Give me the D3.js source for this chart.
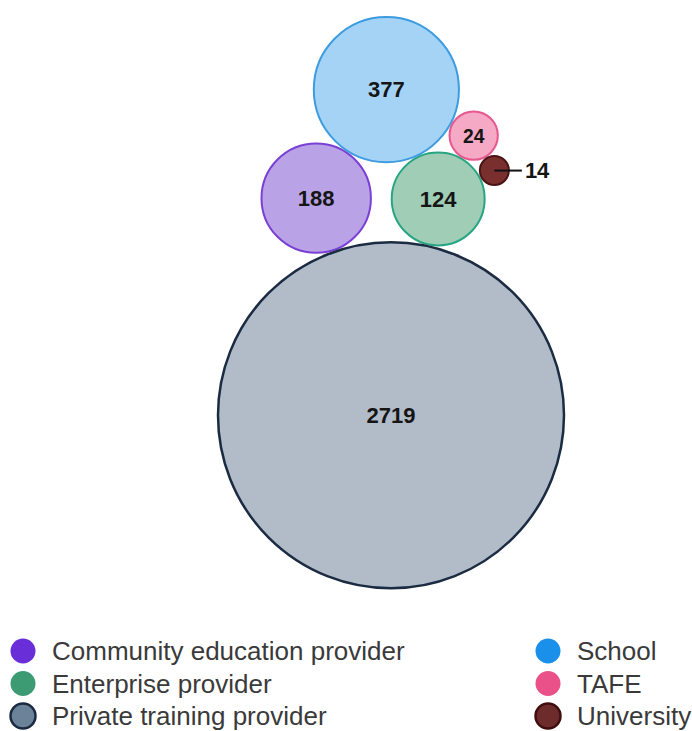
<!DOCTYPE html>
<html>
<head>
<meta charset="utf-8">
<script src="https://cdn.jsdelivr.net/npm/d3@7"></script>
<style>
	body { margin: 0; background: #fff; }
	svg { font-family: "Liberation Sans", Arial, sans-serif; }
	.bubble-label { font-weight: bold; fill: #151515; }
	.legend-label { font-size: 26px; fill: #3a3a3a; }
</style>
</head>
<body>
<svg width="692" height="731"></svg>
<script>
const categories = ['Community education provider', 'Enterprise provider', 'Private training provider', 'School', 'TAFE', 'University'];
const values = [188, 124, 2719, 377, 24, 14];

// styles per category
const fillColors = ['#b9a3e6', '#9fcdb5', '#b1bcc8', '#a5d3f5', '#f5a9c4', '#7a2f2f'];
const strokeColors = ['#7a40d6', '#27a583', '#1b2b42', '#3d9ce0', '#e5598f', '#4a1414'];
const legendFills = ['#6a2ed8', '#3c9b73', '#6c8299', '#1b90ea', '#ea5189', '#6e2b2b'];
const legendStrokes = ['none', 'none', '#1a2a40', 'none', 'none', '#3f0f0f'];

const svg = d3.select('svg');
const width = +svg.attr('width');
const height = +svg.attr('height');

const render = () => {
	const gap = 2;
	const top = 17;
	const centerX = 391;

	const data = categories.map((name, i) => ({name, value: values[i], i}));
	const minV = d3.min(values);
	const maxV = d3.max(values);

	// bubble size: area grows with (value - min), between a min and max radius
	const rScale = d3.scaleSqrt()
		.domain([0, maxV - minV])
		.range([14.5, 173]);
	data.forEach(d => d.r = rScale(d.value - minV));

	const byName = n => data.find(d => d.name === n);

	// packed layout: each bubble touches one or two bubbles already placed
	const around = (c, p, deg) => {
		const dist = p.r + c.r + gap;
		const a = deg * Math.PI / 180;
		c.x = p.x + dist * Math.sin(a);
		c.y = p.y - dist * Math.cos(a);
	};
	const between = (c, p1, p2) => {
		const r1 = p1.r + c.r + gap, r2 = p2.r + c.r + gap;
		const dx = p2.x - p1.x, dy = p2.y - p1.y, d = Math.hypot(dx, dy);
		const a = (d * d + r1 * r1 - r2 * r2) / (2 * d);
		const h = Math.sqrt(Math.max(0, r1 * r1 - a * a));
		c.x = p1.x + a * dx / d + h * dy / d;
		c.y = p1.y + a * dy / d - h * dx / d;
	};

	const anchor = data[d3.maxIndex(values)];
	anchor.x = 0; anchor.y = 0;
	around(byName('Community education provider'), anchor, -19);
	around(byName('Enterprise provider'), anchor, 12.3);
	between(byName('School'), byName('Community education provider'), byName('Enterprise provider'));
	between(byName('TAFE'), byName('School'), byName('Enterprise provider'));
	between(byName('University'), byName('TAFE'), byName('Enterprise provider'));

	const minX = d3.min(data, d => d.x - d.r);
	const maxX = d3.max(data, d => d.x + d.r);
	const minY = d3.min(data, d => d.y - d.r);

	const g = svg.append('g')
		.attr('transform', `translate(${centerX - (minX + maxX) / 2}, ${top - minY})`);

	g.selectAll('circle').data(data)
		.enter().append('circle')
			.attr('cx', d => d.x)
			.attr('cy', d => d.y)
			.attr('r', d => d.r)
			.attr('fill', d => fillColors[d.i])
			.attr('stroke', d => strokeColors[d.i])
			.attr('stroke-width', d => d.r > 100 ? 2.5 : 2);

	const fontSize = 22;
	const labelWidth = d => String(d.value).length * 0.556 * fontSize;
	const fits = d => labelWidth(d) + 10 < 2 * d.r;

	g.selectAll('text.inside').data(data.filter(fits))
		.enter().append('text')
			.attr('class', 'bubble-label inside')
			.attr('x', d => d.x)
			.attr('y', d => d.y)
			.attr('dy', '0.36em')
			.attr('text-anchor', 'middle')
			.style('font-size', d => Math.min(fontSize, d.r * 0.8) + 'px')
			.text(d => d.value);

	const outside = data.filter(d => !fits(d));
	g.selectAll('line.connector').data(outside)
		.enter().append('line')
			.attr('class', 'connector')
			.attr('x1', d => d.x)
			.attr('y1', d => d.y)
			.attr('x2', d => d.x + d.r + 13)
			.attr('y2', d => d.y)
			.attr('stroke', '#111')
			.attr('stroke-width', 2);

	g.selectAll('text.outside').data(outside)
		.enter().append('text')
			.attr('class', 'bubble-label outside')
			.attr('x', d => d.x + d.r + 16)
			.attr('y', d => d.y)
			.attr('dy', '0.36em')
			.style('font-size', fontSize + 'px')
			.text(d => d.value);

	// legend, two columns of three
	const legendX = [23, 548];
	const legendY = d3.scalePoint()
		.domain([0, 1, 2])
		.range([651, 716]);

	const legend = svg.append('g').selectAll('g').data(data)
		.enter().append('g')
			.attr('transform', d => `translate(${legendX[Math.floor(d.i / 3)]}, ${legendY(d.i % 3)})`);

	legend.append('circle')
		.attr('r', 12.5)
		.attr('fill', d => legendFills[d.i])
		.attr('stroke', d => legendStrokes[d.i])
		.attr('stroke-width', 2.5);

	legend.append('text')
		.attr('class', 'legend-label')
		.attr('x', 29)
		.attr('dy', '0.35em')
		.text(d => d.name);
};

render();
</script>
</body>
</html>
